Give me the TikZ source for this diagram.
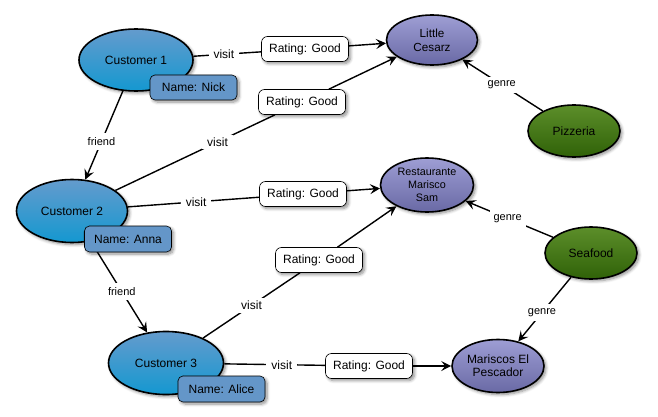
\documentclass[tikz,border=0pt]{standalone}
\usepackage{fontspec}
\setmainfont{Liberation Sans}
\usetikzlibrary{shapes.geometric,arrows.meta,shadows.blur}
\definecolor{custtop}{RGB}{100,155,205}
\definecolor{custbot}{RGB}{20,152,208}
\definecolor{namefill}{RGB}{100,150,200}
\definecolor{resttop}{RGB}{158,158,212}
\definecolor{restbot}{RGB}{105,105,165}
\definecolor{gentop}{RGB}{92,142,42}
\definecolor{genbot}{RGB}{48,98,8}
\tikzset{
  mainfont/.style={font=\fontsize{12}{13}\selectfont},
  smallfont/.style={font=\fontsize{11}{13}\selectfont},
  shad/.style={blur shadow={shadow xshift=2pt,shadow yshift=-2pt,shadow blur steps=6,shadow opacity=45,shadow blur radius=3pt}},
  custnode/.style={ellipse,draw,line width=1.6pt,inner sep=0pt,top color=custtop,bottom color=custbot,shad,mainfont},
  restnode/.style={ellipse,draw,line width=1.6pt,inner sep=0pt,top color=resttop,bottom color=restbot,shad,align=center,minimum width=92pt,minimum height=52pt},
  gennode/.style={ellipse,draw,line width=1.6pt,inner sep=0pt,top color=gentop,bottom color=genbot,shad,mainfont,minimum width=92pt,minimum height=52pt},
  namebox/.style={rectangle,rounded corners=5pt,draw,line width=0.6pt,fill=namefill,shad,mainfont,minimum width=87pt,minimum height=25pt,inner sep=0pt},
  ratebox/.style={rectangle,rounded corners=6pt,draw,line width=0.6pt,fill=white,shad,mainfont,minimum width=87pt,minimum height=25pt,inner sep=0pt},
  conn/.style={line width=1.4pt},
  arr/.style={line width=1.4pt,-{Stealth[length=10pt,width=10pt,inset=4pt]}},
  lbl/.style={fill=white,inner xsep=5pt,inner ysep=3pt,mainfont},
  slbl/.style={fill=white,inner xsep=4pt,inner ysep=4pt,smallfont},
}
\begin{document}
\begin{tikzpicture}[x=1pt,y=-1pt]
\useasboundingbox (0,0) rectangle (658,417);
% nodes
\node[custnode,minimum width=114pt,minimum height=62pt] (c1) at (136,60) {Customer 1};
\node[custnode,minimum width=111pt,minimum height=63pt] (c2) at (72,211) {Customer 2};
\node[custnode,minimum width=115pt,minimum height=63pt] (c3) at (166,363) {Customer 3};
\node[restnode,font=\fontsize{11.7}{14}\selectfont,minimum width=91pt,minimum height=50pt] (lc) at (432,40) {Little\\Cesarz};
\node[restnode,font=\fontsize{10.8}{13}\selectfont,minimum width=93pt,minimum height=54pt] (rms) at (427,185) {Restaurante\\Marisco\\Sam};
\node[restnode,font=\fontsize{12}{13.3}\selectfont,minimum width=92pt,minimum height=53pt] (mep) at (498,366) {Mariscos El\\Pescador};
\node[gennode] (piz) at (574,131) {Pizzeria};
\node[gennode] (sea) at (591,253) {Seafood};
\node[ratebox] (r1) at (305,49) {Rating: Good};
\node[ratebox] (r2) at (302,102) {Rating: Good};
\node[ratebox] (r3) at (303,194) {Rating: Good};
\node[ratebox] (r4) at (319,260) {Rating: Good};
\node[ratebox] (r5) at (369,366) {Rating: Good};
% connectors
\draw[conn] (c1) -- node[lbl,pos=0.45]{visit} (r1);
\draw[conn] (c2) -- node[lbl,pos=0.64]{visit} (r2);
\draw[conn] (c2) -- node[lbl,pos=0.52]{visit} (r3);
\draw[conn] (c3) -- node[lbl,pos=0.5]{visit} (r4);
\draw[conn] (c3) -- node[lbl,pos=0.57]{visit} (r5);
\draw[arr] (r1) -- (lc);
\draw[arr] (r2) -- (lc);
\draw[arr] (r3) -- (rms);
\draw[arr] (r4) -- (rms);
\draw[arr] (r5) -- (mep);
\draw[arr] (c1) -- node[slbl,pos=0.57]{friend} (c2);
\draw[arr] (c2) -- node[slbl,pos=0.55]{friend} (c3);
\draw[arr] (piz) -- node[slbl,pos=0.51]{genre} (lc);
\draw[arr] (sea) -- node[slbl,pos=0.52]{genre} (rms);
\draw[arr] (sea) -- node[slbl,pos=0.55]{genre} (mep);
% name boxes on top
\node[namebox] (n1) at (193.5,87.5) {Name: Nick};
\node[namebox,minimum height=26pt] (n2) at (128,239) {Name: Anna};
\node[namebox,minimum height=26pt] (n3) at (221.5,389) {Name: Alice};
\end{tikzpicture}
\end{document}
